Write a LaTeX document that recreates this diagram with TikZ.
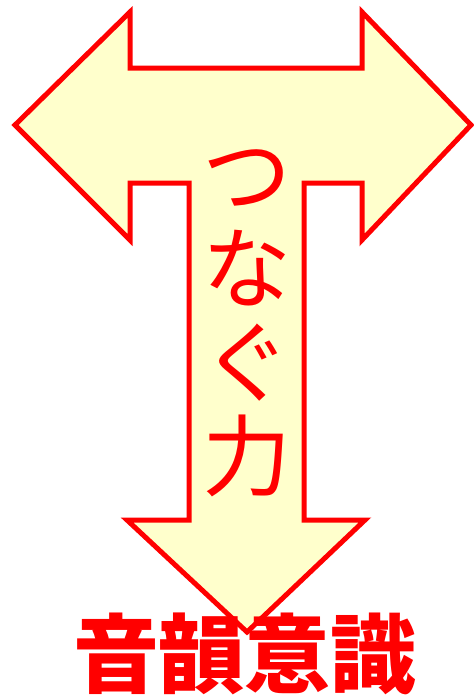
\documentclass[tikz,border=0pt]{standalone}
\usepackage{fontspec}
\newfontfamily\cjk{Noto Sans CJK JP}
\definecolor{arrowfill}{HTML}{FFFFCC}
\definecolor{arrowred}{HTML}{FF0000}
\begin{document}
\begin{tikzpicture}[x=1pt,y=-1pt,
  tshape/.style={draw=arrowred,fill=arrowfill,line width=5pt,line join=miter},
  vlabel/.style={text=arrowred,font=\cjk\fontsize{89}{94}\selectfont,align=center,inner sep=0pt},
  blabel/.style={text=arrowred,font=\cjk\bfseries\fontsize{86}{86}\selectfont,inner sep=0pt}]
\useasboundingbox (0,0) rectangle (474,697);
\draw[tshape] (15,125) -- (130,12) -- (130,68) -- (362,68) -- (362,12) -- (471,125)
  -- (362,240) -- (362,183) -- (304,183) -- (304,520) -- (365,520) -- (247,632)
  -- (127,520) -- (189,520) -- (189,183) -- (130,183) -- (130,240) -- cycle;
\node[vlabel] (v) at (247,323) {つ\\な\\ぐ\\力};
\node[blabel] (b) at (245,654) {音韻意識};
\end{tikzpicture}
\end{document}
